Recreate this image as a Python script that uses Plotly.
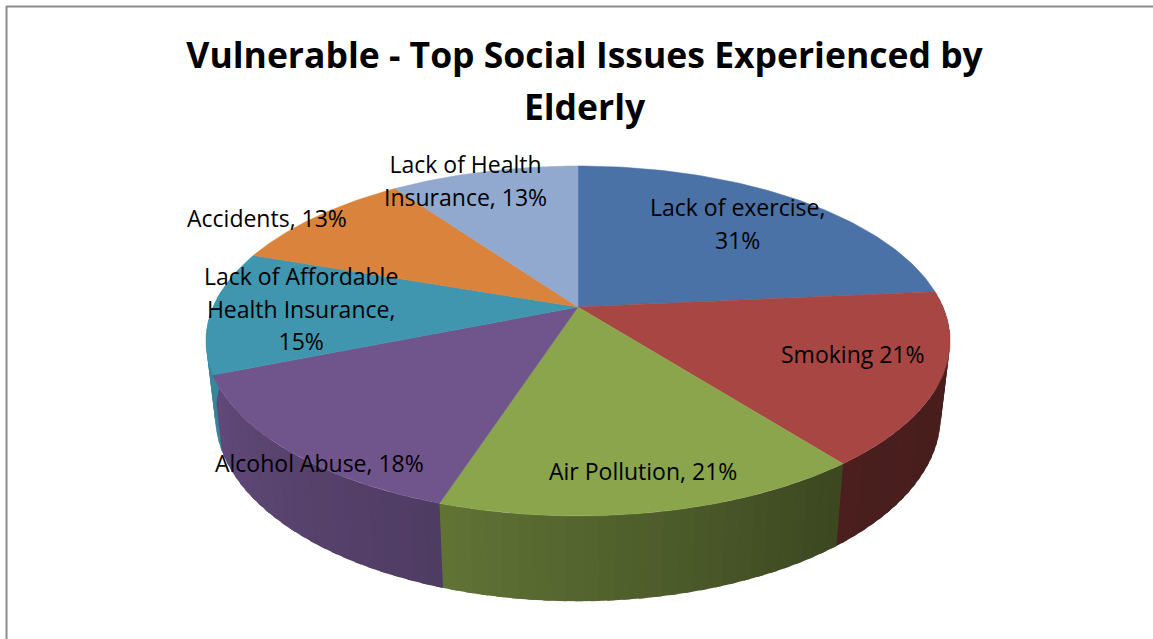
import numpy as np
import plotly.graph_objects as go

# ---- data
categories = ["Lack of exercise", "Smoking", "Air Pollution", "Alcohol Abuse",
              "Lack of Affordable Health Insurance", "Accidents", "Lack of Health Insurance"]
values = [31, 21, 20.5, 18.3, 15, 13, 13]
percent_labels = ["31%", "21%", "21%", "18%", "15%", "13%", "13%"]
title_lines = ["Vulnerable - Top Social Issues Experienced by", "Elderly"]

# ---- styles
top_colors = ["#4a72a6", "#a84644", "#8aa54c", "#70558c", "#4096ae", "#d9833c", "#92a9cf"]
label_text = [
    "Lack of exercise,<br>" + percent_labels[0],
    "Smoking " + percent_labels[1],
    "Air Pollution, " + percent_labels[2],
    "Alcohol Abuse, " + percent_labels[3],
    "Lack of Affordable<br>Health Insurance,<br>" + percent_labels[4],
    "Accidents, " + percent_labels[5],
    "Lack of Health<br>Insurance, " + percent_labels[6],
]
label_pos = [(737, 223), (853, 354), (643, 471), (319, 463), (301, 308), (267, 218), (465, 180)]
FONT = "Open Sans"
LABEL_SIZE = 23
LINE_SIZE = 25

# ---- 3-D view of the pie (perspective projection)
CX, CY, A, B, K = 578.0, 307.0, 365.0, 168.4, 0.194
DEPTH, RIM = 73.0, 0.975


def project(theta_deg, lower=False):
    t = np.radians(theta_deg)
    u, v = np.sin(t), np.cos(t)
    w = 1 + K * v
    if lower:
        return CX + RIM * A * u / w, CY + (DEPTH - RIM * B * v) / w
    return CX + A * u / w, CY - B * v / w


def shade(hex_color, f):
    r, g, b = (int(hex_color[i:i + 2], 16) for i in (1, 3, 5))
    return f"rgb({r * f:.0f},{g * f:.0f},{b * f:.0f})"


edges = 360 * np.cumsum([0] + values) / np.sum(values)
fig = go.Figure()

# side wall: back to front, thin strips for the shading
for i, name in enumerate(categories):
    a0, a1 = max(edges[i], 85), min(edges[i + 1], 275)
    if a1 <= a0:
        continue
    n = max(1, int((a1 - a0) / 2))
    br = np.linspace(a0, a1, n + 1)
    for s0, s1 in zip(br[:-1], br[1:]):
        mid = (s0 + s1) / 2
        f = np.interp(mid, [120, 145, 200, 250, 275], [0.43, 0.44, 0.71, 0.87, 0.9])
        col = shade(top_colors[i], f)
        ts = np.linspace(s0, s1 + 1.0, 5)
        xu, yu = project(ts)
        xl, yl = project(ts[::-1], lower=True)
        fig.add_trace(go.Scatter(x=np.r_[xu, xl, xu[0]], y=np.r_[yu, yl, yu[0]], mode="lines",
                                 fill="toself", fillcolor=col, line=dict(color=col, width=0),
                                 name=name, hoverinfo="name", showlegend=False))

# top face
for i, name in enumerate(categories):
    ts = np.linspace(edges[i], edges[i + 1], 80)
    xu, yu = project(ts)
    fig.add_trace(go.Scatter(x=np.r_[CX, xu, CX], y=np.r_[CY, yu, CY], mode="lines",
                             fill="toself", fillcolor=top_colors[i],
                             line=dict(color=top_colors[i], width=0.5),
                             name=name, hoverinfo="name", showlegend=False))


def sized(text, size):
    return "<br>".join(f'<span style="font-size:{size}px">{p}</span>' for p in text.split("<br>"))


annotations = [
    dict(x=x, y=y, xref="x", yref="y", showarrow=False, align="center",
         text=sized(t, LABEL_SIZE),
         font=dict(family=FONT, size=LINE_SIZE, color="#000000"))
    for t, (x, y) in zip(label_text, label_pos)
]

fig.update_layout(
    width=1153, height=639, autosize=False,
    margin=dict(l=0, r=0, t=0, b=0),
    paper_bgcolor="#ffffff", plot_bgcolor="#ffffff",
    title=dict(text=sized("<br>".join(title_lines), 35.5), x=0.507, xanchor="center", xref="paper",
               y=0.893, yanchor="top", yref="container",
               font=dict(family=FONT, size=40, color="#000000", weight="bold")),
    xaxis=dict(range=[0, 1153], visible=False, fixedrange=True),
    yaxis=dict(range=[639, 0], visible=False, fixedrange=True),
    annotations=annotations,
    shapes=[
        dict(type="line", x0=6.5, x1=6.5, y0=6, y1=639, xref="x", yref="y", line=dict(color="#8c8c8c", width=2)),
        dict(type="line", x0=6, x1=1153, y0=6.5, y1=6.5, xref="x", yref="y", line=dict(color="#8c8c8c", width=2)),
    ],
)
fig.write_html("out.html", config={"displayModeBar": False},
               post_script="document.body.style.margin='0';document.documentElement.style.overflow='hidden';")
